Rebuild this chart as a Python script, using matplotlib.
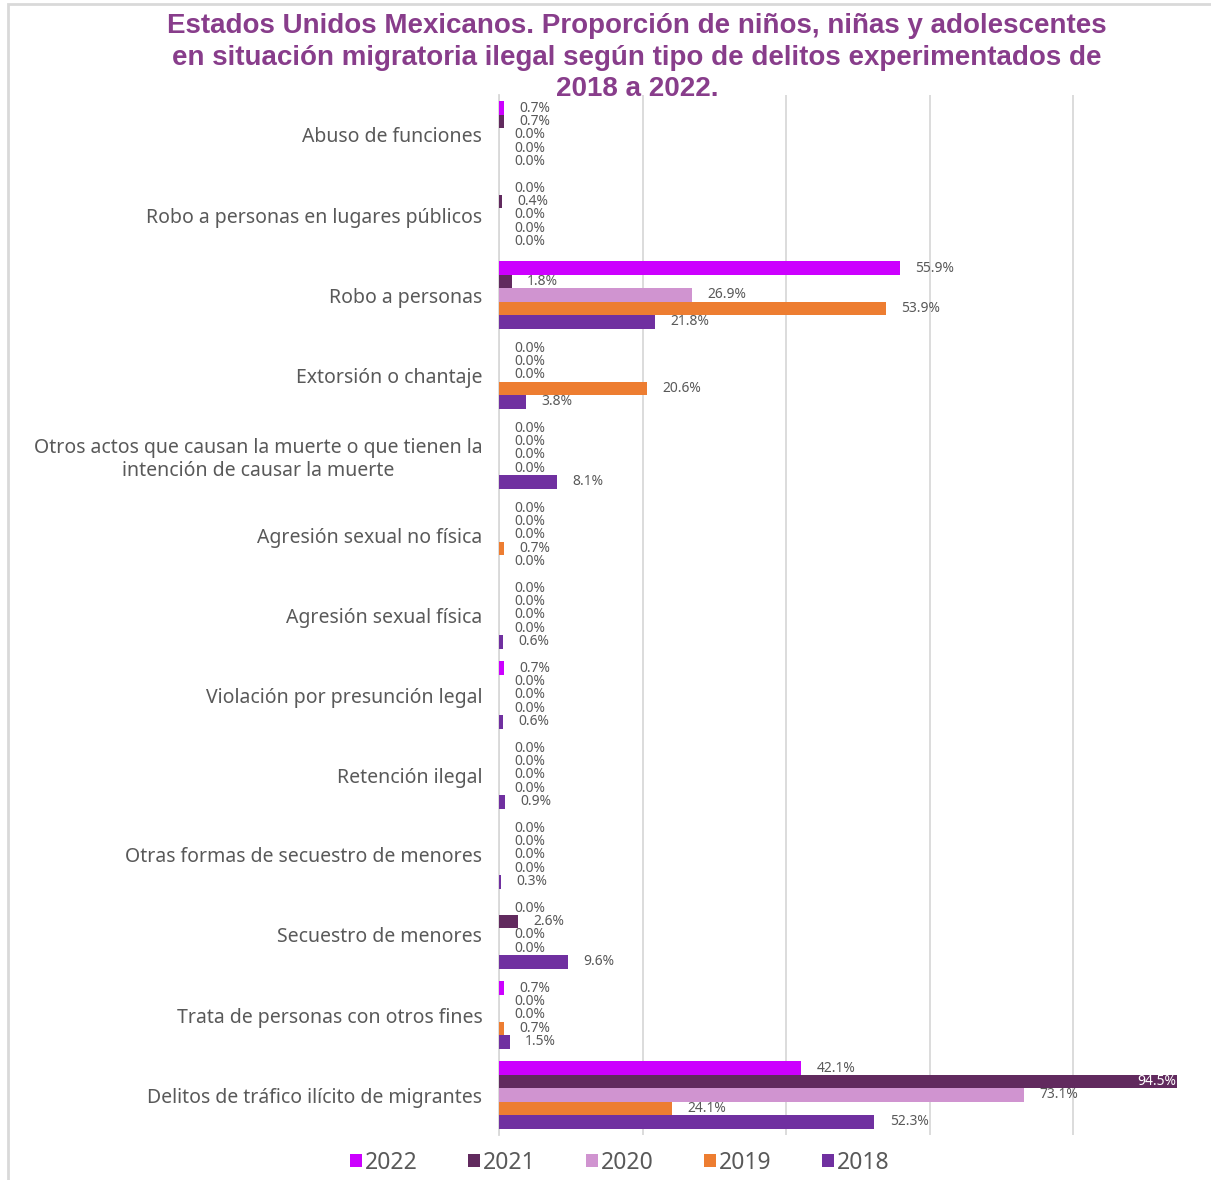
import matplotlib.pyplot as plt
import numpy as np
from matplotlib.patches import Rectangle

# Categorias (de arriba hacia abajo)
categorias = [
    "Abuso de funciones",
    "Robo a personas en lugares públicos",
    "Robo a personas",
    "Extorsión o chantaje",
    "Otros actos que causan la muerte o que tienen la\nintención de causar la muerte",
    "Agresión sexual no física",
    "Agresión sexual física",
    "Violación por presunción legal",
    "Retención ilegal",
    "Otras formas de secuestro de menores",
    "Secuestro de menores",
    "Trata de personas con otros fines",
    "Delitos de tráfico ilícito de migrantes",
]

anios = ["2022", "2021", "2020", "2019", "2018"]
v2022 = [0.7, 0.0, 55.9, 0.0, 0.0, 0.0, 0.0, 0.7, 0.0, 0.0, 0.0, 0.7, 42.1]
v2021 = [0.7, 0.4, 1.8, 0.0, 0.0, 0.0, 0.0, 0.0, 0.0, 0.0, 2.6, 0.0, 94.5]
v2020 = [0.0, 0.0, 26.9, 0.0, 0.0, 0.0, 0.0, 0.0, 0.0, 0.0, 0.0, 0.0, 73.1]
v2019 = [0.0, 0.0, 53.9, 20.6, 0.0, 0.7, 0.0, 0.0, 0.0, 0.0, 0.0, 0.7, 24.1]
v2018 = [0.0, 0.0, 21.8, 3.8, 8.1, 0.0, 0.6, 0.6, 0.9, 0.3, 9.6, 1.5, 52.3]
series = [v2022, v2021, v2020, v2019, v2018]
colores = ["#CC00FF", "#612A5E", "#D094D0", "#ED7D31", "#7030A0"]

gris = "#595959"
plt.rcParams['font.family'] = ['Noto Sans', 'DejaVu Sans']

fig = plt.figure(figsize=(12.11, 11.8), dpi=100)
# marco exterior gris claro
fig.patches.append(Rectangle((8/1211, -0.01), 1.01, 1 - 4/1180 + 0.01, transform=fig.transFigure,
                             fill=False, ec="#D9D9D9", lw=2))

ax = fig.add_axes([499/1211, 45/1180, (1178-499)/1211, (1135-95)/1180])

y = np.arange(len(categorias))
alto = 0.168
for k, (vals, col, anio) in enumerate(zip(series, colores, anios)):
    pos = y - 2*alto + k*alto
    ax.barh(pos, vals, height=alto, color=col, label=anio, zorder=3)
    for p, v in zip(pos, vals):
        if v > 90:
            ax.annotate(f"{v:.1f}%", (v, p), xytext=(-1, 0), textcoords="offset points",
                        ha="right", va="center", fontsize=10, color="white", zorder=4)
        else:
            ax.annotate(f"{v:.1f}%", (v, p), xytext=(11, 0), textcoords="offset points",
                        ha="left", va="center", fontsize=10, color=gris, zorder=4)

ax.set_ylim(len(categorias) - 0.5, -0.5)
ax.set_xlim(0, 94.6)
ax.set_xticks([0, 20, 40, 60, 80])
ax.set_xticklabels([])
ax.tick_params(axis="x", length=0)
ax.grid(axis="x", color="#D9D9D9", lw=1.3, zorder=0)
ax.set_yticks(y)
ax.set_yticklabels(categorias, fontsize=14, color=gris, multialignment="center")
ax.tick_params(axis="y", length=0, pad=12)
for s in ["top", "right", "bottom"]:
    ax.spines[s].set_visible(False)
ax.spines["left"].set_color("#D9D9D9")
ax.spines["left"].set_linewidth(1.3)

fig.text(0.526, 0.989, "Estados Unidos Mexicanos. Proporción de niños, niñas y adolescentes\n"
         "en situación migratoria ilegal según tipo de delitos experimentados de\n2018 a 2022.",
         ha="center", va="top", fontsize=20, fontweight="bold", color="#883D8B",
         family="Liberation Sans", linespacing=1.28)

fig.legend(loc="center", bbox_to_anchor=(0.512, 1 - 1163/1180), ncol=5, frameon=False,
           fontsize=16.5, labelcolor=gris, handlelength=0.5, handleheight=0.5,
           handletextpad=0.15, columnspacing=2.2)

fig.savefig("out.png", dpi=100)
